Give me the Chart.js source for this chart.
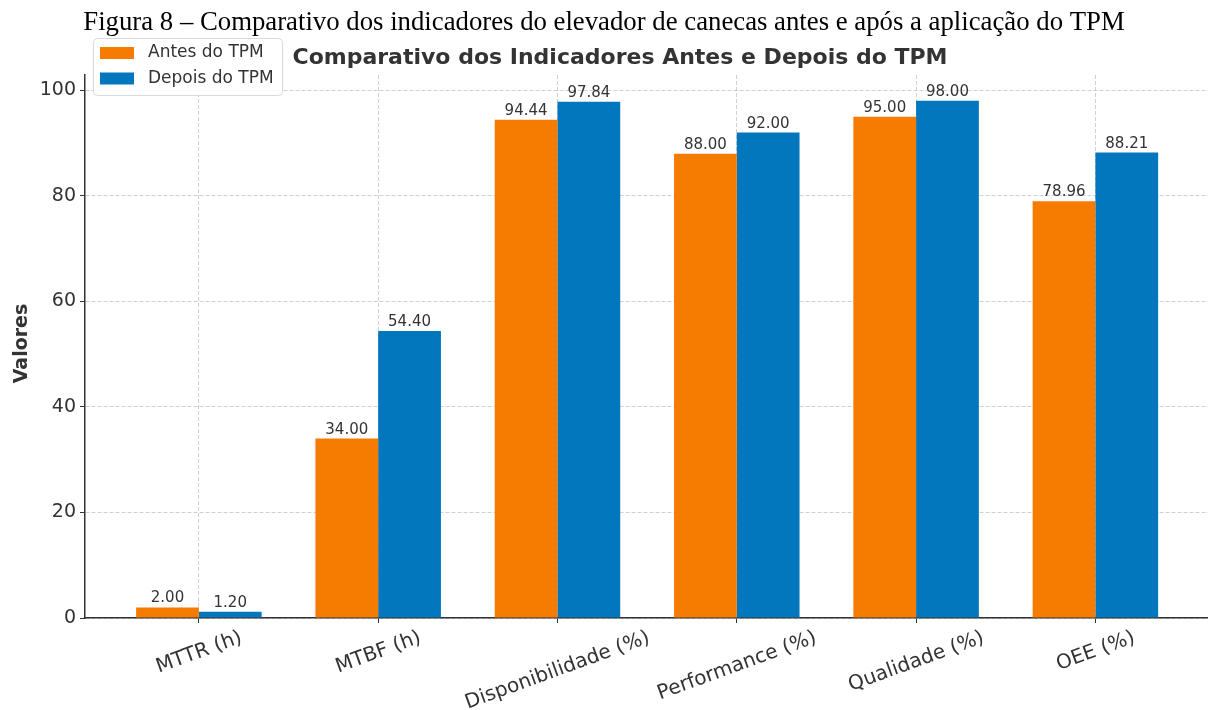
<!DOCTYPE html>
<html>
<head>
<meta charset="utf-8">
<script src="https://cdn.jsdelivr.net/npm/chart.js@4.4.1/dist/chart.umd.min.js"></script>
<style>
  html, body { margin: 0; padding: 0; background: #ffffff; }
  #wrap { width: 1208px; height: 710px; }
</style>
</head>
<body>
<div id="wrap"><canvas id="c" width="1208" height="710"></canvas></div>
<script>
const captionText = 'Figura 8 – Comparativo dos indicadores do elevador de canecas antes e após a aplicação do TPM';
const titleText = 'Comparativo dos Indicadores Antes e Depois do TPM';
const yAxisTitle = 'Valores';
const categories = ['MTTR (h)', 'MTBF (h)', 'Disponibilidade (%)', 'Performance (%)', 'Qualidade (%)', 'OEE (%)'];
const seriesNames = ['Antes do TPM', 'Depois do TPM'];
const antes = [2.00, 34.00, 94.44, 88.00, 95.00, 78.96];
const depois = [1.20, 54.40, 97.84, 92.00, 98.00, 88.21];
const yTicks = [0, 20, 40, 60, 80, 100];

const ORANGE = '#F57C00';
const BLUE = '#0277BD';
const TEXT = '#333333';
const GRID = 'rgba(185,185,185,0.75)';

const toXY = arr => arr.map((v, i) => ({ x: i, y: v }));

const decorPlugin = {
  id: 'decor',
  afterDraw(chart) {
    const ctx = chart.ctx;
    const xs = chart.scales.x;
    const ca = chart.chartArea;

    // value labels
    ctx.save();
    ctx.font = '15px "DejaVu Sans"';
    ctx.fillStyle = TEXT;
    ctx.textAlign = 'center';
    ctx.textBaseline = 'alphabetic';
    chart.data.datasets.forEach((ds, di) => {
      const meta = chart.getDatasetMeta(di);
      meta.data.forEach((el, i) => {
        ctx.fillText(ds.data[i].y.toFixed(2), el.x, el.y - 5);
      });
    });
    ctx.restore();

    // rotated category labels
    ctx.save();
    ctx.font = '20px "DejaVu Sans"';
    ctx.fillStyle = TEXT;
    const th = 20 * Math.PI / 180;
    categories.forEach((lab, i) => {
      const x = xs.getPixelForValue(i);
      const m = ctx.measureText(lab);
      const L = m.width;
      const h = m.actualBoundingBoxAscent + m.actualBoundingBoxDescent;
      const H = L * Math.sin(th) + h * Math.cos(th);
      const top = ca.bottom + 10;
      ctx.save();
      ctx.translate(x, top + H / 2);
      ctx.rotate(-th);
      ctx.textAlign = 'center';
      ctx.textBaseline = 'alphabetic';
      ctx.fillText(lab, 0, (m.actualBoundingBoxAscent - m.actualBoundingBoxDescent) / 2);
      ctx.restore();
    });
    ctx.restore();

    // y axis title
    ctx.save();
    ctx.font = 'bold 19px "DejaVu Sans"';
    ctx.fillStyle = TEXT;
    ctx.translate(22, (ca.top + ca.bottom) / 2 - 3);
    ctx.rotate(-Math.PI / 2);
    ctx.textAlign = 'center';
    ctx.textBaseline = 'middle';
    ctx.fillText(yAxisTitle, 0, 0);
    ctx.restore();

    // figure caption (serif)
    ctx.save();
    ctx.fillStyle = '#000000';
    ctx.font = '24px "Liberation Serif"';
    const w24 = ctx.measureText(captionText).width;
    const capSize = 24 * 1042 / w24;
    ctx.font = capSize.toFixed(2) + 'px "Liberation Serif"';
    ctx.textAlign = 'center';
    ctx.textBaseline = 'alphabetic';
    ctx.fillText(captionText, 604, 30);
    ctx.restore();

    // chart title
    ctx.save();
    ctx.fillStyle = TEXT;
    ctx.font = 'bold 22px "DejaVu Sans"';
    ctx.textAlign = 'center';
    ctx.textBaseline = 'alphabetic';
    ctx.fillText(titleText, 620, 64);
    ctx.restore();

    // legend
    ctx.save();
    const bx = 93, by = 38, bw = 189, bh = 57;
    ctx.fillStyle = 'rgba(255,255,255,0.9)';
    ctx.strokeStyle = '#d9d9d9';
    ctx.lineWidth = 1;
    ctx.beginPath();
    if (ctx.roundRect) ctx.roundRect(bx + 0.5, by + 0.5, bw, bh, 4); else ctx.rect(bx + 0.5, by + 0.5, bw, bh);
    ctx.fill();
    ctx.stroke();
    ctx.font = '17px "DejaVu Sans"';
    ctx.textBaseline = 'middle';
    ctx.textAlign = 'left';
    chart.data.datasets.forEach((ds, di) => {
      const cy = 53 + di * 25.5;
      ctx.fillStyle = ds.backgroundColor;
      ctx.fillRect(100, cy - 6, 34, 12);
      ctx.fillStyle = TEXT;
      ctx.fillText(ds.label, 148, cy);
    });
    ctx.restore();
  }
};

const gridOpts = {
  display: true,
  offset: false,
  color: GRID,
  lineWidth: 0.9,
  drawTicks: true,
  tickLength: 5,
  tickColor: '#333333',
  tickWidth: 1,
  tickBorderDash: []
};

new Chart(document.getElementById('c'), {
  type: 'bar',
  data: {
    datasets: [
      { label: seriesNames[0], data: toXY(antes), backgroundColor: ORANGE, borderWidth: 0,
        categoryPercentage: 0.7, barPercentage: 1.0 },
      { label: seriesNames[1], data: toXY(depois), backgroundColor: BLUE, borderWidth: 0,
        categoryPercentage: 0.7, barPercentage: 1.0 }
    ]
  },
  options: {
    responsive: false,
    animation: false,
    layout: { padding: { top: 75, right: 0, left: 0, bottom: 0 } },
    plugins: {
      legend: { display: false },
      title: { display: false },
      tooltip: { enabled: false }
    },
    scales: {
      x: {
        type: 'linear',
        z: 1,
        min: -0.635,
        max: 5.628,
        offset: false,
        afterBuildTicks: s => { s.ticks = categories.map((c, i) => ({ value: i })); },
        afterFit: s => { s.height = 92; },
        ticks: { display: false },
        grid: Object.assign({}, gridOpts),
        border: { display: true, color: '#333333', width: 1.5, dash: [4, 2] }
      },
      y: {
        type: 'linear',
        z: 1,
        min: 0,
        max: 102.9,
        afterBuildTicks: s => { s.ticks = yTicks.map(v => ({ value: v })); },
        afterFit: s => { s.width = 85; },
        ticks: {
          color: TEXT,
          font: { family: 'DejaVu Sans', size: 19 },
          padding: 4
        },
        grid: Object.assign({}, gridOpts),
        border: { display: true, color: '#333333', width: 1.5, dash: [4, 2] }
      }
    }
  },
  plugins: [decorPlugin]
});
</script>
</body>
</html>
